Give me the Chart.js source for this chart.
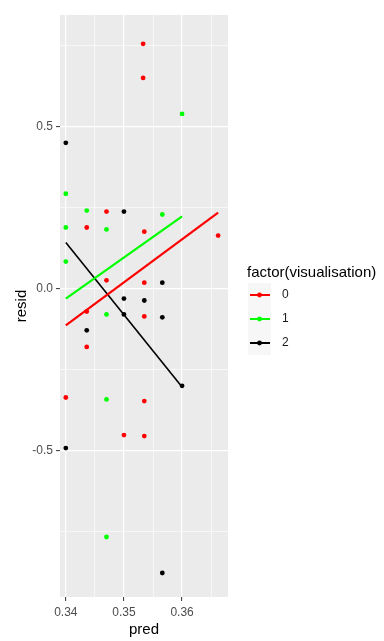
<!DOCTYPE html>
<html>
<head>
<meta charset="utf-8">
<script src="https://cdn.jsdelivr.net/npm/chart.js@4.4.0/dist/chart.umd.min.js"></script>
<style>
html,body{margin:0;padding:0;background:#fff;}
</style>
</head>
<body>
<canvas id="chart" width="384" height="641"></canvas>
<script>
// values
const groups = ['0', '1', '2'];
const groupColors = ['#FF0000', '#00FF00', '#000000'];

// visualisation 0
const pred0  = [0.3533, 0.3533, 0.347, 0.3436, 0.3535, 0.3662, 0.347, 0.3535, 0.3436, 0.3535, 0.3436, 0.34, 0.3535, 0.35, 0.3535];
const resid0 = [0.754, 0.649, 0.237, 0.188, 0.175, 0.163, 0.025, 0.018, -0.071, -0.086, -0.18, -0.336, -0.347, -0.452, -0.455];
// visualisation 1
const pred1  = [0.36, 0.34, 0.3436, 0.3566, 0.34, 0.347, 0.34, 0.347, 0.347, 0.347];
const resid1 = [0.538, 0.292, 0.24, 0.228, 0.188, 0.182, 0.083, -0.08, -0.342, -0.766];
// visualisation 2
const pred2  = [0.34, 0.35, 0.3566, 0.35, 0.3535, 0.35, 0.3566, 0.3436, 0.36, 0.34, 0.3566];
const resid2 = [0.449, 0.237, 0.018, -0.031, -0.037, -0.08, -0.089, -0.129, -0.30, -0.492, -0.877];

// fitted lm lines (end points)
const fitX0 = [0.34, 0.3662], fitY0 = [-0.114, 0.234];
const fitX1 = [0.34, 0.36],   fitY1 = [-0.031, 0.222];
const fitX2 = [0.34, 0.36],   fitY2 = [0.142, -0.304];

// axes
const xMajor = [0.34, 0.35, 0.36];
const xLabels = ['0.34', '0.35', '0.36'];
const xMinor = [0.345, 0.355, 0.365];
const yMajor = [-0.5, 0, 0.5];
const yLabels = ['-0.5', '0.0', '0.5'];
const yMinor = [-0.75, -0.25, 0.25, 0.75];

const FONT = "'Liberation Sans', Arial, sans-serif";

function pts(xs, ys){ return xs.map((x,i)=>({x, y: ys[i]})); }
function isIn(arr, v){ return arr.some(a=>Math.abs(a-v) < 1e-9); }

const panelBg = {
  id: 'panelBg',
  beforeDraw(chart){
    const {ctx, chartArea: a} = chart;
    ctx.save();
    ctx.fillStyle = '#EBEBEB';
    ctx.fillRect(a.left, a.top, a.right-a.left, a.bottom-a.top);
    ctx.restore();
  }
};

// ggplot style legend at the right
const ggLegend = {
  id: 'ggLegend',
  afterDraw(chart){
    const ctx = chart.ctx;
    const x0 = 248, keyW = 23, keyH = 24;
    const ys = [295, 319, 343];
    ctx.save();
    ctx.fillStyle = '#000';
    ctx.font = '15px ' + FONT;
    ctx.textBaseline = 'middle';
    ctx.textAlign = 'left';
    ctx.fillText('factor(visualisation)', 247, 273);
    groups.forEach((g,i)=>{
      const y = ys[i];
      ctx.fillStyle = '#F7F7F7';
      ctx.fillRect(x0, y-keyH/2, keyW, keyH);
      ctx.strokeStyle = groupColors[i];
      ctx.lineWidth = 2;
      ctx.beginPath(); ctx.moveTo(x0+2, y); ctx.lineTo(x0+keyW-1, y); ctx.stroke();
      ctx.fillStyle = groupColors[i];
      ctx.beginPath(); ctx.arc(x0+keyW/2, y, 2.4, 0, Math.PI*2); ctx.fill();
      ctx.fillStyle = '#1A1A1A';
      ctx.font = '12px ' + FONT;
      ctx.fillText(g, 282, y);
    });
    ctx.restore();
  }
};

function pointSet(xs, ys, i){
  return { data: pts(xs, ys), backgroundColor: groupColors[i], borderWidth: 0, pointRadius: 2.4, showLine: false, order: 2 };
}
function fitSet(xs, ys, i){
  return { data: pts(xs, ys), borderColor: groupColors[i], borderWidth: i===2 ? 1.6 : 2.2, pointRadius: 0, showLine: true, order: 1 };
}

function gridOpts(major){
  return {
    color: '#FFFFFF',
    lineWidth: c => isIn(major, c.tick.value) ? 1.2 : 0.6,
    tickLength: 4,
    tickWidth: 1,
    tickColor: c => isIn(major, c.tick.value) ? '#333333' : 'rgba(0,0,0,0)'
  };
}

new Chart(document.getElementById('chart'), {
  type: 'scatter',
  data: {
    datasets: [
      pointSet(pred0, resid0, 0), pointSet(pred1, resid1, 1), pointSet(pred2, resid2, 2),
      fitSet(fitX0, fitY0, 0), fitSet(fitX1, fitY1, 1), fitSet(fitX2, fitY2, 2)
    ]
  },
  options: {
    responsive: false,
    animation: false,
    layout: { padding: { top: 15, right: 156, left: 0, bottom: 0 } },
    plugins: { legend: { display: false }, tooltip: { enabled: false } },
    scales: {
      x: {
        type: 'linear', min: 0.339, max: 0.3679,
        afterBuildTicks: s => { s.ticks = xMajor.concat(xMinor).sort((a,b)=>a-b).map(v=>({value:v})); },
        afterFit: s => { s.height = 44; },
        grid: gridOpts(xMajor),
        border: { display: false },
        ticks: {
          autoSkip: false, maxRotation: 0, padding: 4, color: '#4D4D4D',
          font: { family: FONT, size: 12 },
          callback: v => { const k = xMajor.findIndex(a=>Math.abs(a-v)<1e-9); return k<0 ? '' : xLabels[k]; }
        },
        title: { display: true, text: 'pred', color: '#000', font: { family: FONT, size: 15 }, padding: { top: 0, bottom: 2 } }
      },
      y: {
        type: 'linear', min: -0.951, max: 0.843,
        afterBuildTicks: s => { s.ticks = yMajor.concat(yMinor).sort((a,b)=>a-b).map(v=>({value:v})); },
        afterFit: s => { s.width = 60; },
        grid: gridOpts(yMajor),
        border: { display: false },
        ticks: {
          autoSkip: false, padding: 3, color: '#4D4D4D',
          font: { family: FONT, size: 12 },
          callback: v => { const k = yMajor.findIndex(a=>Math.abs(a-v)<1e-9); return k<0 ? '' : yLabels[k]; }
        },
        title: { display: true, text: 'resid', color: '#000', font: { family: FONT, size: 15 }, padding: { top: 13, bottom: 0 } }
      }
    }
  },
  plugins: [panelBg, ggLegend]
});
</script>
</body>
</html>
